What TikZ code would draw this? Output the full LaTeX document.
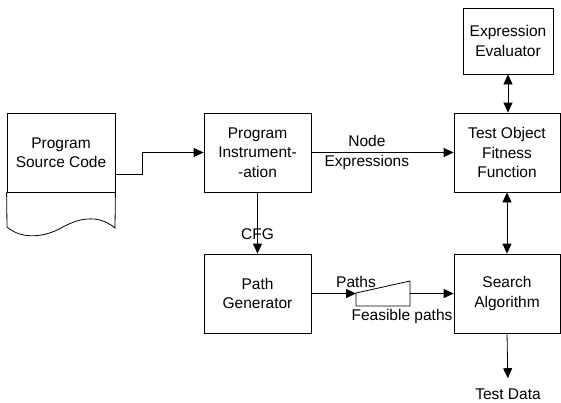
\documentclass[tikz,border=0pt]{standalone}
\usepackage{fontspec}
\setmainfont{Liberation Sans}
\usetikzlibrary{arrows.meta}
\begin{document}
\begin{tikzpicture}[x=1pt, y=-1pt, line width=0.8pt,
    >={Triangle[length=10pt,width=9pt]},
    blk/.style={draw, align=center, inner sep=2pt, minimum width=106pt, minimum height=79pt},
    lbl/.style={align=center, inner sep=1pt},
    every node/.style={font=\fontsize{15.5}{19.5}\selectfont}]
    \useasboundingbox (0,0) rectangle (561,402);
    \node[blk, minimum width=108pt] (src) at (61,152.5) {Program\\Source Code};
    \draw (src.south west) -- (7,227) .. controls (22,240) and (45,237) .. (61,228)
        .. controls (77,219) and (97,213) .. (115,228) -- (src.south east);
    \node[blk, minimum width=107pt] (instr) at (257.5,152.5) {Program\\Instrument-\\-ation};
    \node[blk, minimum width=107pt] (pathgen) at (257.5,293.5) {Path\\Generator};
    \node[blk] (toff) at (507,152.5) {Test Object\\Fitness\\Function};
    \node[blk] (search) at (507,293.5) {Search\\Algorithm};
    \node[blk, minimum width=90pt, minimum height=66pt] (evalr) at (508,41) {Expression\\Evaluator};
    \node[lbl] (data) at (508,394) {Test Data};
    % feasibility filter
    \coordinate (fin) at (356,293.5);
    \coordinate (fout) at (410,293.5);
    \draw (356,293) -- (410,281) -- (410,306) -- (356,306) -- cycle;
    \draw[->] ([yshift=-21.5pt]src.east) -- ++(27,0) |- (instr.west);
    \draw[->] (instr.east) -- (toff.west) node[lbl, pos=0.39] {Node\\Expressions};
    \draw[->] (instr.south) -- (pathgen.north) node[lbl, pos=0.69] {CFG};
    \draw[->] (pathgen.east) -- (fin) node[lbl, above=4pt] {Paths};
    \draw[->] (fout) -- (search.west);
    \node[lbl] (feas) at (402,316) {Feasible paths};
    \draw[<->] (evalr.south) -- (evalr.south |- toff.north);
    \draw[<->] (toff.south) -- (search.north);
    \draw[->, shorten >=9pt] (search.south) -- (data.north);
\end{tikzpicture}
\end{document}
